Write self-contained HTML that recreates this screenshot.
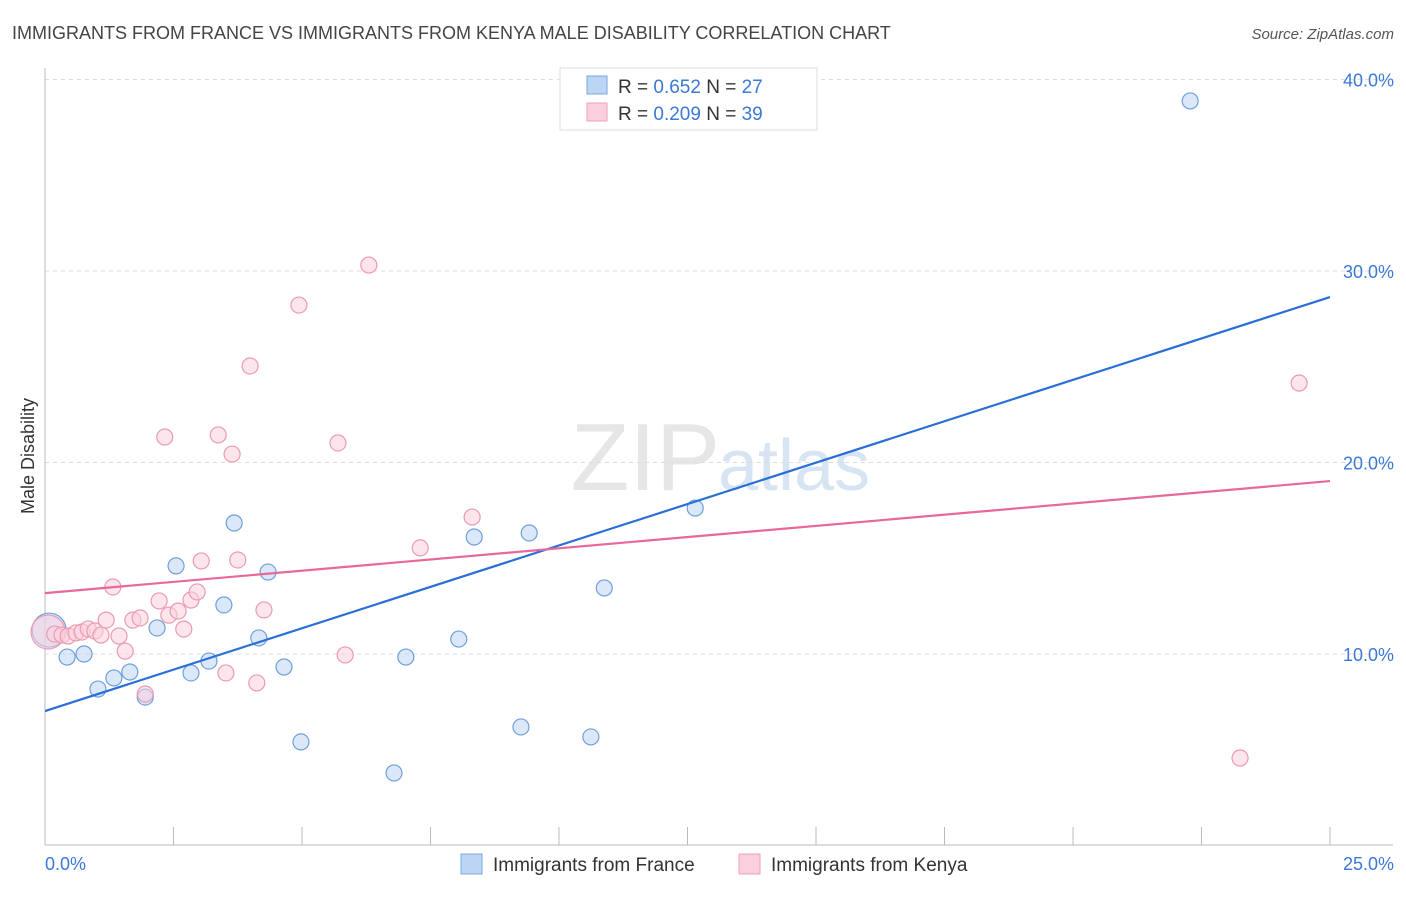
<!DOCTYPE html>
<html><head><meta charset="utf-8"><style>
body{margin:0;background:#fff;font-family:"Liberation Sans",sans-serif}
svg text{font-family:"Liberation Sans",sans-serif}
</style></head><body>
<svg id="chart" width="1406" height="892" xmlns="http://www.w3.org/2000/svg">
<text x="12" y="39" font-size="18" fill="#444">IMMIGRANTS FROM FRANCE VS IMMIGRANTS FROM KENYA MALE DISABILITY CORRELATION CHART</text>
<text x="1394" y="39" font-size="15" fill="#555" font-style="italic" text-anchor="end">Source: ZipAtlas.com</text>
<text x="720" y="490" font-size="96" fill="#e6e6e6" text-anchor="end" font-family="Liberation Serif">ZIP</text>
<text x="718" y="490" font-size="72" fill="#d6e4f3">atlas</text>
<g id="grid"></g>
<g id="axes"></g>
<g id="marks"></g>
<text transform="translate(34,456) rotate(-90)" font-size="18" fill="#333" text-anchor="middle">Male Disability</text>
<text x="45" y="870" font-size="18" fill="#3b78d8">0.0%</text>
<text x="1394" y="870" font-size="18" fill="#3b78d8" text-anchor="end">25.0%</text>
<g>
<rect x="560" y="68" width="257" height="62" fill="#fff" stroke="#ddd"/>
<rect x="587" y="76" width="20" height="18" fill="#bcd5f5" stroke="#7aa7e0"/>
<rect x="587" y="103" width="20" height="18" fill="#fbcfdc" stroke="#eea0b8"/>
<text x="618" y="93" font-size="19" fill="#333">R = <tspan fill="#3b78d8">0.652</tspan>    N = <tspan fill="#3b78d8">27</tspan></text>
<text x="618" y="120" font-size="19" fill="#333">R = <tspan fill="#3b78d8">0.209</tspan>    N = <tspan fill="#3b78d8">39</tspan></text>
</g>
<g>
<rect x="461" y="854" width="21" height="20" fill="#bcd5f5" stroke="#7aa7e0"/>
<text x="493" y="871" font-size="19" fill="#333">Immigrants from France</text>
<rect x="739" y="854" width="21" height="20" fill="#fbcfdc" stroke="#eea0b8"/>
<text x="771" y="871" font-size="19" fill="#333">Immigrants from Kenya</text>
</g>
</svg>
<script>
const yTicks=[10,20,30,40];
const yTickLabels=["10.0%","20.0%","30.0%","40.0%"];
const franceX=[0.08,0.43,0.76,1.03,1.34,1.65,1.95,2.18,2.55,2.84,3.19,3.48,3.68,4.16,4.34,4.65,4.98,6.79,7.02,8.05,8.35,9.26,9.42,10.62,10.88,12.65,22.28];
const franceY=[11.25,9.84,10.0,8.17,8.75,9.06,7.75,11.36,14.6,9.01,9.63,12.56,16.84,10.84,14.28,9.32,5.41,3.79,9.84,10.78,16.11,6.19,16.32,5.67,13.45,17.62,38.88];
const kenyaX=[0.06,0.19,0.33,0.45,0.6,0.72,0.84,0.97,1.09,1.19,1.32,1.44,1.56,1.71,1.85,1.95,2.22,2.33,2.41,2.59,2.7,2.84,2.96,3.04,3.37,3.52,3.64,3.75,3.99,4.12,4.26,4.94,5.7,5.84,6.3,7.3,8.31,23.25,24.4];
const kenyaY=[11.15,11.04,10.99,10.94,11.1,11.15,11.31,11.2,10.99,11.77,13.5,10.94,10.15,11.77,11.88,7.91,12.77,21.33,12.03,12.24,11.3,12.82,13.24,14.86,21.44,9.01,20.44,14.91,25.04,8.49,12.3,28.22,21.02,9.95,30.31,15.54,17.15,4.57,24.15];
const franceTrend=[7.02,28.64];
const kenyaTrend=[13.18,19.03];
const NS="http://www.w3.org/2000/svg";
const X0=45,X1=1330,Y0=845.5,PPY=19.15;
function sx(v){return X0+(X1-X0)*v/25;}
function sy(v){return Y0-v*PPY;}
function mk(tag,attrs,parent){const e=document.createElementNS(NS,tag);for(const k in attrs)e.setAttribute(k,attrs[k]);document.getElementById(parent).appendChild(e);return e;}
yTicks.forEach((t,i)=>{
 const l=mk('line',{x1:45,x2:1393,y1:sy(t),y2:sy(t),stroke:'#ddd','stroke-dasharray':'4,4'},'grid');
 
 
 const tx=mk('text',{x:1394,y:sy(t)+7,'font-size':18,fill:'#3b78d8','text-anchor':'end'},'grid');
 tx.textContent=yTickLabels[i];
 
 
});
const ax=mk('line',{x1:45,x2:1393,y1:845,y2:845,stroke:'#bbb'},'axes');


const ay=mk('line',{x1:45,x2:45,y1:68,y2:845,stroke:'#bbb'},'axes');


for(let i=1;i<=10;i++){
 const t=mk('line',{x1:sx(i*2.5),x2:sx(i*2.5),y1:827,y2:845,stroke:'#bbb'},'axes');
 
 
}
function pts(xs,ys,fill,stroke,name){
 xs.forEach((x,i)=>{
  const c=mk('circle',{cx:sx(x),cy:sy(ys[i]),r:i===0?17:8,fill:fill,stroke:stroke,'stroke-width':1.2,'fill-opacity':0.55},'marks');
  
  
 });
}
pts(franceX,franceY,'#bcd5f5','#6f9fdc','france-point');
pts(kenyaX,kenyaY,'#fbcfdc','#eb9ab3','kenya-point');
const tb=mk('line',{x1:sx(0),y1:sy(franceTrend[0]),x2:sx(25),y2:sy(franceTrend[1]),stroke:'#2a6fd6','stroke-width':2.2},'marks');


const tp=mk('line',{x1:sx(0),y1:sy(kenyaTrend[0]),x2:sx(25),y2:sy(kenyaTrend[1]),stroke:'#e8689a','stroke-width':2.2},'marks');


</script>
</body></html>
